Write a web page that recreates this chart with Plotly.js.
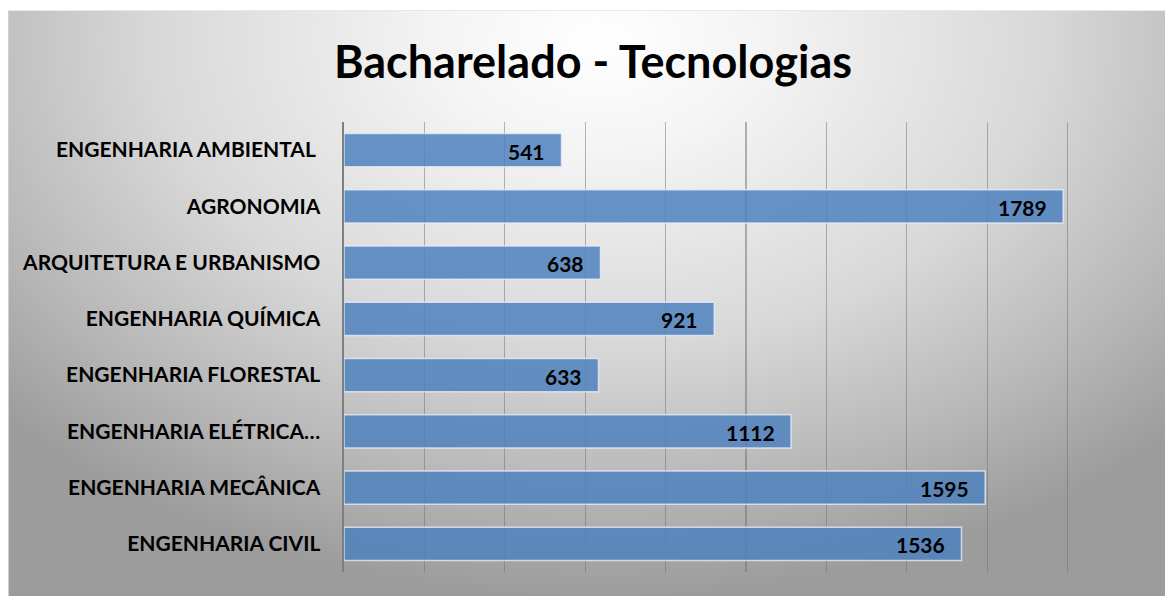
<!DOCTYPE html>
<html>
<head>
<meta charset="utf-8">
<script src="https://cdn.plot.ly/plotly-3.0.1.min.js"></script>
<style>
  html, body { margin: 0; padding: 0; width: 1165px; height: 596px; overflow: hidden; background: #ffffff; }
  #bg { position: absolute; left: 8px; top: 10px; width: 1157px; height: 586px;
        background: radial-gradient(ellipse 70% 95% at 51% 5%, #ffffff 0%, #f4f4f4 20%, #d8d8d8 55%, #b8b8b8 80%, #9c9c9c 100%);
        border-left: 1px solid #cfcfcf; border-top: 1px solid #e8e8e8; }
  #chart { position: absolute; left: 0; top: 0; width: 1165px; height: 596px; }
</style>
</head>
<body>
<div id="bg"></div>
<div id="chart"></div>
<script>
const categories = [
  "ENGENHARIA AMBIENTAL ",
  "AGRONOMIA",
  "ARQUITETURA E URBANISMO",
  "ENGENHARIA QUÍMICA",
  "ENGENHARIA FLORESTAL",
  "ENGENHARIA ELÉTRICA…",
  "ENGENHARIA MECÂNICA",
  "ENGENHARIA CIVIL"
];
const values = [541, 1789, 638, 921, 633, 1112, 1595, 1536];
const titleText = "Bacharelado - Tecnologias";

const FONT = "Lato, 'Open Sans', sans-serif";

const trace = {
  type: "bar",
  orientation: "h",
  x: values,
  y: categories,
  marker: {
    color: "rgba(79,129,189,0.85)",
    line: { color: "rgba(235,240,250,0.75)", width: 1.5 }
  },
  hoverinfo: "skip"
};

const annotations = values.map((v, i) => ({
  x: v, y: categories[i], xref: "x", yref: "y",
  text: String(v), showarrow: false,
  xanchor: "right", yanchor: "middle", xshift: -14, yshift: -1,
  font: { family: FONT, size: 21, color: "#000000", weight: 700 }
}));

const layout = {
  width: 1165, height: 596,
  paper_bgcolor: "rgba(0,0,0,0)",
  plot_bgcolor: "rgba(0,0,0,0)",
  margin: { l: 344, r: 17, t: 122, b: 24, pad: 0 },
  showlegend: false,
  bargap: 0.41,
  title: {
    text: "<b>" + titleText + "</b>",
    font: { family: FONT, size: 45, color: "#000000" },
    xref: "container", yref: "container",
    x: 0.509, xanchor: "center", y: 0.895, yanchor: "middle"
  },
  xaxis: {
    range: [0, 2000],
    dtick: 200,
    showgrid: true,
    gridcolor: "rgba(110,110,110,0.5)",
    gridwidth: 1.3,
    zeroline: false,
    showline: false,
    showticklabels: false,
    ticks: "",
    fixedrange: true
  },
  yaxis: {
    type: "category",
    autorange: "reversed",
    showline: true,
    linecolor: "#7f7f7f",
    linewidth: 2.5,
    showgrid: false,
    ticks: "",
    ticklabelstandoff: 17,
    tickfont: { family: FONT, size: 21, color: "#000000", weight: 700 },
    fixedrange: true
  },
  annotations: annotations
};

Plotly.newPlot("chart", [trace], layout, { displayModeBar: false, staticPlot: true });
</script>
</body>
</html>
